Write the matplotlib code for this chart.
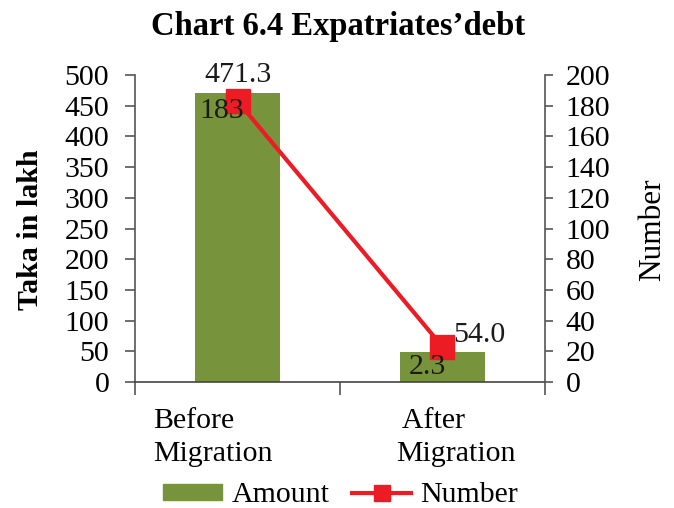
import matplotlib as mpl
from matplotlib import pyplot as plt
from matplotlib.transforms import ScaledTranslation
from matplotlib.lines import Line2D
from matplotlib.patches import Patch

mpl.rcParams['font.family'] = ['Liberation Serif', 'DejaVu Serif']

categories = ["Before\nMigration", " After\nMigration"]
amount = [471.3, 49]
number = [183, 23]
amount_labels = ["471.3", "54.0"]
number_labels = ["183", "2.3"]

green = "#77933C"
red = "#ED1C24"
fs = 21.5

fig = plt.figure(figsize=(6.74, 5.08), dpi=100)
ax = fig.add_axes([0.2003, 0.248, 0.6083, 0.6043])
ax2 = ax.twinx()

x = list(range(len(categories)))
ax.bar(x, amount, width=0.41, color=green, zorder=2)
ax.set_xlim(-0.5, len(categories) - 0.5)
ax.set_ylim(0, 500)
ax.set_yticks(range(0, 501, 50))
ax2.set_ylim(0, 200)
ax2.set_yticks(range(0, 201, 20))

ax2.plot(x, number, color=red, lw=3, marker='s', markersize=17, zorder=3)

# spines / ticks
ax.tick_params(axis='y', labelsize=fs, length=7.5, width=1.2, color='#555555', pad=11)
ax2.tick_params(axis='y', labelsize=fs, length=6, width=1.2, color='#555555', pad=9)
ax.spines['top'].set_visible(False)
ax2.spines['top'].set_visible(False)
ax.spines['right'].set_visible(False)
ax.spines['left'].set_color('#555555')
ax.spines['bottom'].set_color('#444444')
ax2.spines['left'].set_visible(False)
ax2.spines['bottom'].set_visible(False)
ax2.spines['right'].set_color('#555555')
for s in (ax.spines['left'], ax.spines['bottom'], ax2.spines['right']):
    s.set_linewidth(1.2)

# category boundaries as major ticks, labels as minor
ax.set_xticks([-0.5, 0.5, 1.5])
ax.set_xticklabels([])
ax.set_xticks(x, minor=True)
ax.set_xticklabels(categories, minor=True, fontsize=fs, linespacing=1.37)
ax.tick_params(axis='x', which='minor', length=0, pad=18.5)
ax.tick_params(axis='x', which='major', length=9, width=1.2, color='#555555')
shifts = [-25, 13]
for lab, dx in zip(ax.get_xticklabels(minor=True), shifts):
    lab.set_multialignment('left')
    lab.set_transform(lab.get_transform() + ScaledTranslation(dx / 100, 0, fig.dpi_scale_trans))

ax.set_ylabel("Taka in lakh", fontsize=fs, fontweight='bold', va='center')
ax.yaxis.set_label_coords(-0.254, 0.495)
ax2.set_ylabel("Number", fontsize=22.5, va='center')
ax2.yaxis.set_label_coords(1.263, 0.495)

fig.text(0.502, 0.931, "Chart 6.4 Expatriates\u2019debt", ha='center', va='baseline',
         fontsize=23.5, fontweight='bold')

# data labels
amt_off = [(0, 18), (37, 17)]
for xi, v, t, off in zip(x, amount, amount_labels, amt_off):
    ax.annotate(t, (xi, v), xytext=off, textcoords='offset pixels',
                ha='center', va='center', fontsize=fs, color='#1a1a1a', zorder=5)
num_off = [(-16, -10), (-15, -20)]
for xi, v, t, off in zip(x, number, number_labels, num_off):
    ax2.annotate(t, (xi, v), xytext=off, textcoords='offset pixels',
                 ha='center', va='center', fontsize=fs, color='#1a1a1a', zorder=5)

handles = [Patch(color=green, label="Amount"),
           Line2D([], [], color=red, lw=3, marker='s', markersize=12, label="Number")]
fig.legend(handles=handles, loc='center', bbox_to_anchor=(0.505, 0.025), ncol=2,
           frameon=False, fontsize=fs, handlelength=2.0, handleheight=0.45,
           columnspacing=0.75, handletextpad=0.3, borderpad=0.1)

fig.savefig("out.png", dpi=100)
